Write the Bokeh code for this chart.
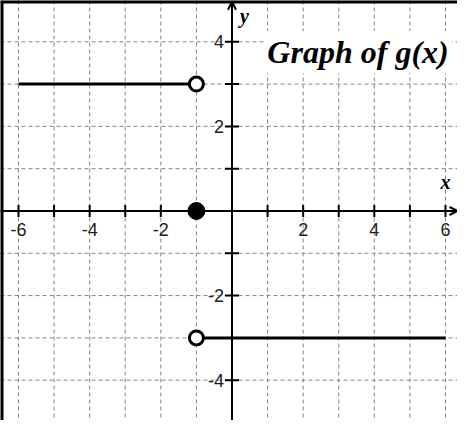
import numpy as np
from bokeh.plotting import figure
from bokeh.models import Span, Label, Arrow, OpenHead
from bokeh.core.properties import value
from bokeh.embed import file_html
from bokeh.resources import INLINE

# ---- data ----
seg_x0 = [-6, -1]
seg_x1 = [-1, 6]
seg_y = [3, -3]
open_x = [-1, -1]
open_y = [3, -3]
closed_x = [-1]
closed_y = [0]
grid_x = [-6, -5, -4, -3, -2, -1, 0, 1, 2, 3, 4, 5, 6]
grid_y = [-4, -3, -2, -1, 0, 1, 2, 3, 4]
xtick_vals = [-6, -5, -4, -3, -2, -1, 1, 2, 3, 4, 5, 6]
ytick_vals = [-4, -3, -2, -1, 1, 2, 3, 4]
xlabel_vals = [-6, -4, -2, 2, 4, 6]
xlabel_text = ["-6", "-4", "-2", "2", "4", "6"]
ylabel_vals = [-4, -2, 2, 4]
ylabel_text = ["-4", "-2", "2", "4"]
title_text = "Graph of g(x)"

X0, X1 = -6.506, 6.338
Y0, Y1 = -4.953, 4.976

p = figure(width=457, height=420, x_range=(X0, X1), y_range=(Y0, Y1),
           output_backend="svg", toolbar_location=None, min_border=0,
           x_axis_location=None, y_axis_location=None, outline_line_color=None)
p.xgrid.visible = False
p.ygrid.visible = False
p.background_fill_color = "white"

# grid
for v in grid_x:
    p.add_layout(Span(location=v, dimension="height", line_color="#858585",
                      line_width=1, line_dash="4 3", level="underlay"))
for v in grid_y:
    p.add_layout(Span(location=v, dimension="width", line_color="#858585",
                      line_width=1, line_dash="4 3", level="underlay"))

# frame borders (left, top)
p.add_layout(Span(location=X0, dimension="height", line_color="black", line_width=6,
                  level="underlay"))
p.add_layout(Span(location=Y1, dimension="width", line_color="black", line_width=6,
                  level="underlay"))

# axes with arrows
p.add_layout(Arrow(end=OpenHead(size=8, line_width=2, line_color="black"),
                   x_start=X0, y_start=0, x_end=X1, y_end=0,
                   line_width=2, line_color="black", level="underlay"))
p.add_layout(Arrow(end=OpenHead(size=8, line_width=2, line_color="black"),
                   x_start=0, y_start=Y0, x_end=0, y_end=Y1 - 0.03,
                   line_width=2, line_color="black", level="underlay"))

# ticks
p.scatter(x=xtick_vals, y=[0] * len(xtick_vals), marker="dash", size=12,
          angle=np.pi / 2, line_color="black", line_width=2)
p.scatter(x=[0] * len(ytick_vals), y=ytick_vals, marker="dash", size=14,
          line_color="black", line_width=2)

# tick labels
p.text(x=xlabel_vals, y=[0] * len(xlabel_vals), text=xlabel_text,
       text_align="center", text_baseline="top", y_offset=12,
       text_font=value("Liberation Sans"), text_font_size="18px", text_color="#222222")
p.text(x=[0] * len(ylabel_vals), y=ylabel_vals, text=ylabel_text,
       text_align="right", text_baseline="middle", x_offset=-8,
       text_font=value("Liberation Sans"), text_font_size="18px", text_color="#222222")

# axis names
p.add_layout(Label(x=0, y=Y1, text="y", x_offset=8, y_offset=-26,
                   text_font="Liberation Serif", text_font_style="bold italic",
                   text_font_size="20px", text_color="black"))
p.add_layout(Label(x=X1, y=0, text="x", x_offset=-17, y_offset=18,
                   text_font="Liberation Serif", text_font_style="bold italic",
                   text_font_size="20px", text_color="black"))

# function pieces
p.segment(x0=seg_x0, y0=seg_y, x1=seg_x1, y1=seg_y, line_color="black", line_width=3)
p.scatter(x=open_x, y=open_y, marker="circle", size=14, fill_color="white",
          line_color="black", line_width=3)
p.scatter(x=closed_x, y=closed_y, marker="circle", size=17, fill_color="black",
          line_color="black", line_width=1)

# title
p.add_layout(Label(x=0.91, y=3.75, text=title_text, text_baseline="alphabetic",
                   text_font="Liberation Serif", text_font_style="bold italic",
                   text_font_size="32px", text_color="black",
                   background_fill_color="white", padding=3))

open("out.html", "w").write(file_html(p, INLINE))
